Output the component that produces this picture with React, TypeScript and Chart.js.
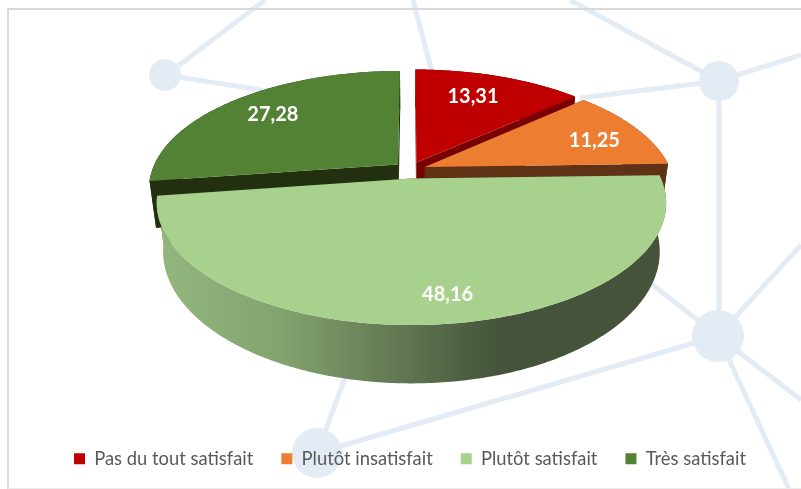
import React, { useEffect, useRef } from "react";
import { Chart, registerables } from "chart.js";

Chart.register(...registerables);

const categories = ["Pas du tout satisfait", "Plutôt insatisfait", "Plutôt satisfait", "Très satisfait"];
const values = [13.31, 11.25, 48.16, 27.28];
const topColors = ["#c00000", "#ed7d31", "#a9d18e", "#548235"];
const wallColors = ["#780000", "#5f3215", "#45533a", "#223010"];
const labelRadii = [0.73, 0.77, 0.84, 0.75];
const labelTurns = [-0.04, 0.05, -0.054, 0];
const paintOrder = [0, 1, 3, 2];

const CENTER_Y = 170;
const SX = 246;
const SY = 114;
const PERSPECTIVE = 0.197;
const WALL = 46;
const BOTTOM_SCALE = 0.975;
const EXPLODE = 0.065;
const EXPLODE_DEPTH = 0.073;

const pie3d = {
  id: "pie3d",
  beforeDatasetDraw(chart: any) {
    const ctx: CanvasRenderingContext2D = chart.ctx;
    const arcs = chart.getDatasetMeta(0).data;
    const cx = arcs[0].x;
    const project = (u: number, v: number, low: boolean) => {
      const s = 1 / (1 + PERSPECTIVE * v);
      const x = SX * u * s;
      const y = CENTER_Y - SY * v * s;
      return low ? [cx + x * BOTTOM_SCALE, y + WALL * s] : [cx + x, y];
    };
    const rimPoints = (a: number, b: number, ox: number, oy: number, low: boolean) => {
      const pts: number[][] = [];
      const n = Math.max(8, Math.ceil((b - a) * 80));
      for (let i = 0; i <= n; i++) {
        const t = a + ((b - a) * i) / n;
        pts.push(project(ox + Math.sin(t), oy + Math.cos(t), low));
      }
      return pts;
    };
    const fillPoly = (pts: number[][], fill: any) => {
      ctx.beginPath();
      pts.forEach((p, i) => (i ? ctx.lineTo(p[0], p[1]) : ctx.moveTo(p[0], p[1])));
      ctx.closePath();
      ctx.fillStyle = fill;
      ctx.fill();
    };
    const shade = () => {
      const g = ctx.createLinearGradient(cx - 250, 0, cx + 95, 0);
      g.addColorStop(0, "#93b67e");
      g.addColorStop(0.35, "#83a36f");
      g.addColorStop(0.72, "#5f7450");
      g.addColorStop(0.92, "#4a5b3e");
      g.addColorStop(1, wallColors[2]);
      return g;
    };
    ctx.save();
    for (const i of paintOrder) {
      const arc = arcs[i];
      const a = arc.startAngle + Math.PI / 2;
      const b = arc.endAngle + Math.PI / 2;
      const mid = (a + b) / 2;
      const ox = EXPLODE * Math.sin(mid);
      const oy = EXPLODE_DEPTH * Math.cos(mid);
      const top = rimPoints(a, b, ox, oy, false);
      const low = rimPoints(a, b, ox, oy, true);
      const apexTop = project(ox, oy, false);
      const apexLow = project(ox, oy, true);
      fillPoly([apexTop, top[0], low[0], apexLow], wallColors[i]);
      fillPoly([apexTop, top[top.length - 1], low[low.length - 1], apexLow], wallColors[i]);
      fillPoly([...top, ...low.slice().reverse()], i === 2 ? shade() : wallColors[i]);
      fillPoly([apexTop, ...top], topColors[i]);
    }
    ctx.fillStyle = "#ffffff";
    ctx.font = "bold 20px Lato";
    ctx.textAlign = "center";
    ctx.textBaseline = "middle";
    arcs.forEach((arc: any, i: number) => {
      const mid = (arc.startAngle + arc.endAngle) / 2 + Math.PI / 2 + labelTurns[i];
      const r = labelRadii[i] + EXPLODE;
      const p = project(r * Math.sin(mid), r * Math.cos(mid), false);
      ctx.fillText(values[i].toFixed(2).replace(".", ","), p[0], p[1]);
    });
    ctx.restore();
    return false;
  },
};

const LINE = "#e3ebf5";
const lines = [
  [178, 66, 265, 0],
  [165, 75, 400, 112],
  [413, 0, 434, 80],
  [570, 0, 719, 81],
  [719, 81, 580, 98],
  [719, 81, 801, 55],
  [719, 81, 719, 336],
  [718, 336, 801, 245],
  [718, 336, 801, 400],
  [718, 336, 789, 489],
  [718, 336, 640, 275],
  [718, 336, 317, 453],
  [317, 453, 350, 365],
];
const nodes = [
  [165, 75, 16],
  [719, 81, 20],
  [718, 336, 26],
  [317, 453, 25],
];

export default function App() {
  const ref = useRef<HTMLCanvasElement>(null);
  useEffect(() => {
    const chart = new Chart(ref.current as HTMLCanvasElement, {
      type: "pie",
      data: {
        labels: categories,
        datasets: [{ data: values, backgroundColor: topColors, borderWidth: 0 }],
      },
      options: {
        animation: false,
        responsive: false,
        devicePixelRatio: 1,
        plugins: {
          tooltip: { enabled: false },
          legend: {
            position: "bottom",
            labels: {
              color: "#595959",
              font: { family: "Lato", size: 18.4 },
              boxWidth: 11,
              boxHeight: 11,
              padding: 28,
            },
          },
        },
      } as any,
      plugins: [pie3d as any],
    });
    return () => chart.destroy();
  }, []);
  return (
    <div style={{ position: "fixed", left: 0, top: 0, width: 801, height: 489, overflow: "hidden", background: "#fff" }}>
      <svg width={801} height={489} style={{ position: "absolute", left: 0, top: 0 }}>
        {lines.map((l, i) => (
          <line key={i} x1={l[0]} y1={l[1]} x2={l[2]} y2={l[3]} stroke={LINE} strokeWidth={5} />
        ))}
        {nodes.map((n, i) => (
          <circle key={i} cx={n[0]} cy={n[1]} r={n[2]} fill={LINE} />
        ))}
        <path d="M801 9 H8 V489" fill="none" stroke="#d9d9d9" strokeWidth={2} />
        <path d="M8 488.5 H801" fill="none" stroke="#ececec" strokeWidth={1} />
      </svg>
      <canvas ref={ref} width={780} height={478} style={{ position: "absolute", left: 20, top: 0 }} />
    </div>
  );
}
